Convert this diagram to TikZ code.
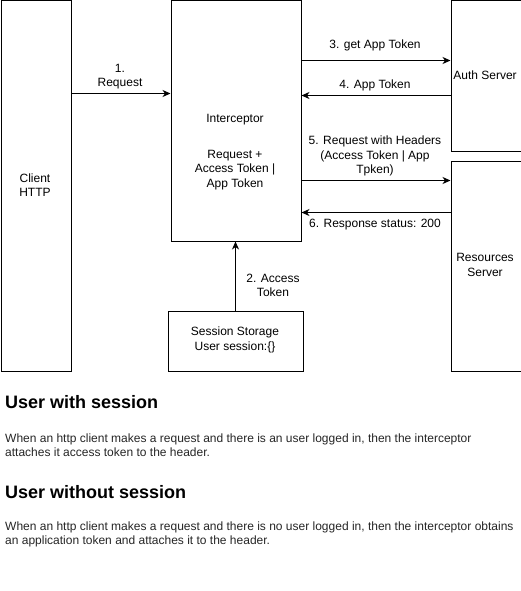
\documentclass[tikz,border=0pt]{standalone}
\usepackage{fontspec}
\setmainfont{Liberation Sans}
\usetikzlibrary{arrows.meta}
\begin{document}
\begin{tikzpicture}[x=1pt,y=-1pt,
  box/.style={draw=black,line width=1pt,anchor=north west,inner sep=0pt},
  txt/.style={font=\fontsize{12}{14.3}\selectfont,align=center,inner sep=0pt},
  lbl/.style={font=\fontsize{12}{14.3}\selectfont,align=center,inner sep=0pt},
  conn/.style={draw=black,line width=1pt,-{Stealth[length=8pt,width=7pt,inset=2.5pt]}},
  head/.style={font=\fontsize{18}{21}\selectfont\bfseries,anchor=west,inner sep=0pt},
  para/.style={font=\fontsize{12}{14}\selectfont,anchor=west,align=left,inner sep=0pt,text=black!85}
]
\useasboundingbox[fill=white] (0,0) rectangle (521,591);
% boxes
\node[box,minimum width=70pt,minimum height=370pt] (client) at (0.5,0.5) {};
\node[box,minimum width=130pt,minimum height=240pt] (inter) at (170.5,0.5) {};
\node[box,minimum width=70pt,minimum height=150pt] (auth) at (450.5,0.5) {};
\node[box,minimum width=70pt,minimum height=210pt] (res) at (450.5,160.5) {};
\node[box,minimum width=135pt,minimum height=60pt] (sess) at (167.5,310.5) {};
% box texts
\node[txt] (clientt) at (35,185) {Client\\HTTP};
\node[txt] (intert) at (235,119.5) {Interceptor};
\node[txt] (intert2) at (235,170) {Request +\\Access Token |\\App Token};
\node[txt] (autht) at (485,75) {Auth Server};
\node[txt] (rest) at (485,265) {Resources\\Server};
\node[txt] (sesst) at (235,340) {Session Storage\\User session:\{\}};
% connectors
\coordinate (c1) at (client.east |- 0,93.5);
\coordinate (i1) at (inter.west |- 0,93.5);
\draw[conn] (c1) -- (i1);
\node[lbl] (l1) at (120,76.5) {1.\\Request};
\coordinate (i3) at (inter.east |- 0,60.5);
\coordinate (a3) at (auth.west |- 0,60.5);
\draw[conn] (i3) -- (a3);
\node[lbl] (l3) at (375,45) {3. get App Token};
\coordinate (a4) at (auth.west |- 0,95.5);
\coordinate (i4) at (inter.east |- 0,95.5);
\draw[conn] (a4) -- (i4);
\node[lbl] (l4) at (375,85.5) {4. App Token};
\coordinate (i5) at (inter.east |- 0,180.5);
\coordinate (r5) at (res.west |- 0,180.5);
\draw[conn] (i5) -- (r5);
\node[lbl] (l5) at (375,156) {5. Request with Headers\\(Access Token | App\\Tpken)};
\coordinate (r6) at (res.west |- 0,212.5);
\coordinate (i6) at (inter.east |- 0,212.5);
\draw[conn] (r6) -- (i6);
\node[lbl] (l6) at (375,225) {6. Response status: 200};
\coordinate (s2) at (sess.north -| 235.5,0);
\coordinate (i2) at (inter.south -| 235.5,0);
\draw[conn] (s2) -- (i2);
\node[lbl] (l2) at (273,285.5) {2. Access\\Token};
% text blocks
\node[head] (h1) at (5,402) {User with session};
\node[para] (p1) at (5,445) {When an http client makes a request and there is an user logged in, then the interceptor\\attaches it access token to the header.};
\node[head] (h2) at (5,492) {User without session};
\node[para] (p2) at (5,534) {When an http client makes a request and there is no user logged in, then the interceptor obtains\\an application token and attaches it to the header.};
\end{tikzpicture}
\end{document}
